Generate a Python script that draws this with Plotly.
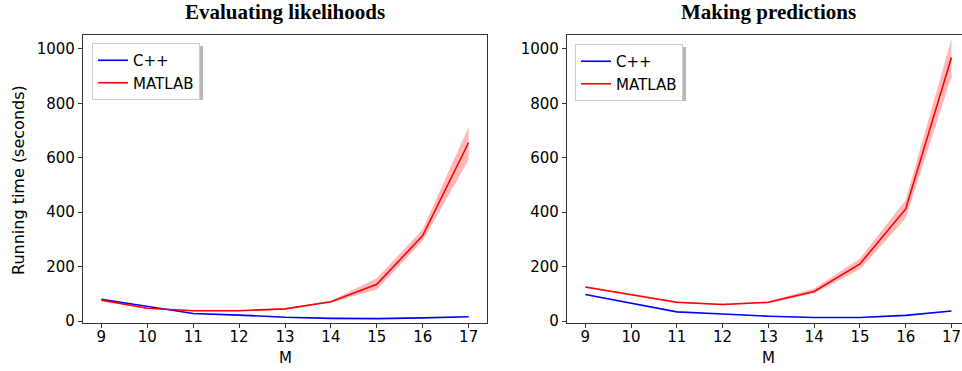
import plotly.graph_objects as go

M = [9, 10, 11, 12, 13, 14, 15, 16, 17]

# Evaluating likelihoods
lik_cpp = [80, 53, 28, 22, 14, 10, 9, 12, 16]
lik_matlab = [77, 47, 38, 38, 45, 71, 135, 314, 656]
lik_matlab_lo = [75, 45, 36, 36, 43, 67, 116, 295, 592]
lik_matlab_hi = [79, 49, 40, 40, 47, 75, 157, 337, 714]

# Making predictions
pred_cpp = [98, 65, 34, 26, 18, 13, 13, 21, 37]
pred_matlab = [125, 96, 69, 61, 69, 109, 210, 412, 968]
pred_matlab_lo = [122, 93, 66, 58, 66, 102, 190, 378, 898]
pred_matlab_hi = [128, 99, 72, 64, 72, 120, 230, 445, 1037]

titles = ["Evaluating likelihoods", "Making predictions"]
yticks = [0, 200, 400, 600, 800, 1000]

W, H = 962, 371
BLUE = "#0000ff"
RED = "#ff0000"
BAND = "rgba(255,0,0,0.28)"

fig = go.Figure()

panels = [
    (lik_cpp, lik_matlab, lik_matlab_lo, lik_matlab_hi, "x", "y", "legend"),
    (pred_cpp, pred_matlab, pred_matlab_lo, pred_matlab_hi, "x2", "y2", "legend2"),
]
for cpp, mat, lo, hi, xa, ya, lg in panels:
    fig.add_trace(go.Scatter(x=M, y=hi, mode="lines", line=dict(width=0, color=BAND),
                             showlegend=False, hoverinfo="skip", xaxis=xa, yaxis=ya))
    fig.add_trace(go.Scatter(x=M, y=lo, mode="lines", line=dict(width=0, color=BAND),
                             fill="tonexty", fillcolor=BAND, showlegend=False,
                             hoverinfo="skip", xaxis=xa, yaxis=ya))
    fig.add_trace(go.Scatter(x=M, y=cpp, mode="lines", name="C++",
                             line=dict(color=BLUE, width=1.6), xaxis=xa, yaxis=ya, legend=lg))
    fig.add_trace(go.Scatter(x=M, y=mat, mode="lines", name="MATLAB",
                             line=dict(color=RED, width=1.6), xaxis=xa, yaxis=ya, legend=lg))

ydom = [(H - 323) / H, (H - 35) / H]
axcommon = dict(showgrid=False, zeroline=False, showline=True, linecolor="#333",
                linewidth=1.2, mirror=True, ticks="outside", ticklen=4, tickcolor="#333",
                automargin=False,
                tickfont=dict(family="DejaVu Sans", size=15, color="black"))

legcommon = dict(xanchor="left", yanchor="top", bgcolor="white", bordercolor="#cccccc",
                 borderwidth=1, traceorder="normal",
                 font=dict(family="DejaVu Sans", size=15, color="black"),
                 tracegroupgap=0, itemwidth=30)

fig.update_layout(
    width=W, height=H, margin=dict(l=0, r=0, t=0, b=0, autoexpand=False),
    paper_bgcolor="white", plot_bgcolor="white",
    xaxis=dict(domain=[83 / W, 487 / W], range=[8.6, 17.4], tickvals=M,
               anchor="y", ticklabelstandoff=-4, **axcommon),
    xaxis2=dict(domain=[567 / W, 1.0], range=[8.6, 17.23], tickvals=M,
                anchor="y2", ticklabelstandoff=-4, **axcommon),
    yaxis=dict(domain=ydom, range=[-7, 1051], tickvals=yticks, anchor="x", **axcommon),
    yaxis2=dict(domain=ydom, range=[-7, 1051], tickvals=yticks, anchor="x2", **axcommon),
    legend=dict(x=92 / W, y=1 - 43 / H, **legcommon),
    legend2=dict(x=575 / W, y=1 - 44 / H, **legcommon),
)

# legend shadows
for x0, y0 in [(92, 43), (575, 44)]:
    fig.add_shape(type="rect", xref="paper", yref="paper", layer="below",
                  x0=(x0 + 3) / W, x1=(x0 + 3 + 108) / W,
                  y0=1 - (y0 + 3 + 54) / H, y1=1 - (y0 + 3) / H,
                  fillcolor="rgba(0,0,0,0.28)", line=dict(width=0))

# titles
for cx, t in [((83 + 487) / 2, titles[0]), ((567 + 969) / 2, titles[1])]:
    fig.add_annotation(text="<b>" + t + "</b>", x=cx / W, y=1 - 12 / H, xref="paper", yref="paper",
                       showarrow=False, xanchor="center", yanchor="middle",
                       font=dict(family="Liberation Serif", size=21, color="black"))
# x labels
for cx in [(83 + 487) / 2, (567 + 969) / 2]:
    fig.add_annotation(text="M", x=cx / W, y=1 - 358 / H, xref="paper", yref="paper",
                       showarrow=False, xanchor="center", yanchor="middle",
                       font=dict(family="DejaVu Sans", size=15, color="black"))
# y label
fig.add_annotation(text="Running time (seconds)", x=18 / W, y=1 - 180 / H, xref="paper", yref="paper",
                   showarrow=False, textangle=-90, xanchor="center", yanchor="middle",
                   font=dict(family="DejaVu Sans", size=16, color="black"))

fig.write_html("out.html")
